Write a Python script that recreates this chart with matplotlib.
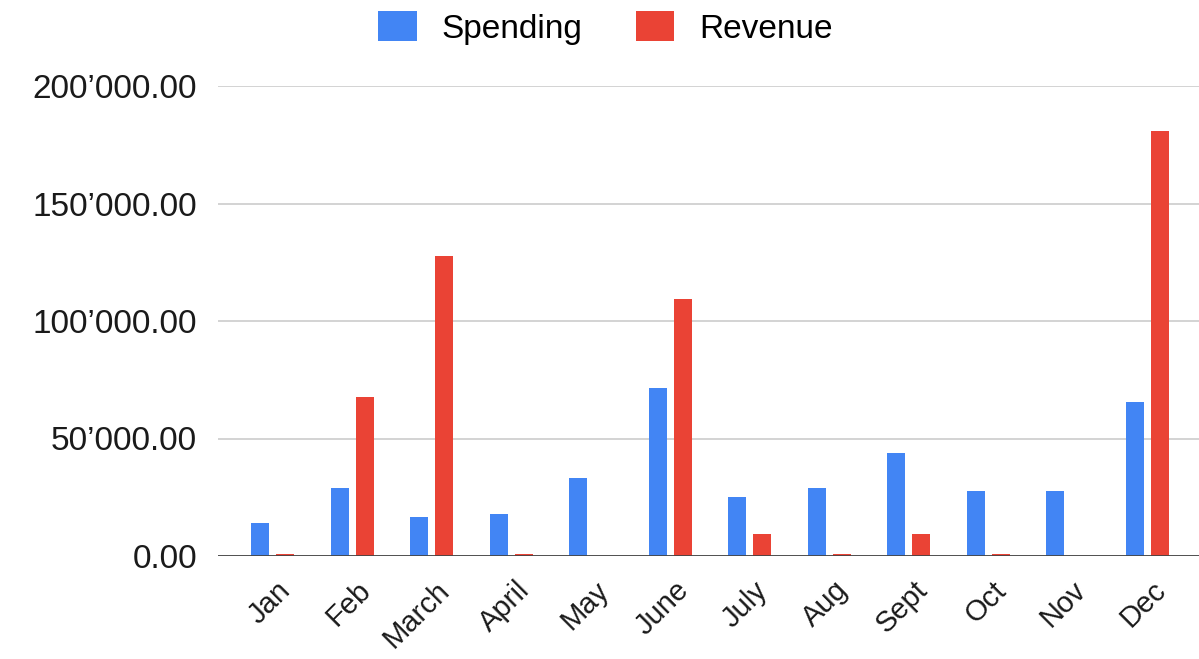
import numpy as np
import matplotlib.pyplot as plt
from matplotlib.ticker import FuncFormatter
from matplotlib.transforms import ScaledTranslation

plt.rcParams['font.family'] = ['Liberation Sans', 'DejaVu Sans']

months = ['Jan', 'Feb', 'March', 'April', 'May', 'June',
          'July', 'Aug', 'Sept', 'Oct', 'Nov', 'Dec']
spending = [14200, 28800, 16700, 17900, 33200, 71500,
            25200, 28800, 43700, 27700, 27700, 65500]
revenue = [800, 67700, 127700, 800, 0, 109400,
           9200, 800, 9200, 800, 0, 180900]

blue = '#4285f4'
red = '#ea4335'
fs = 24

fig = plt.figure(figsize=(11.99, 6.59), dpi=100)
ax = fig.add_axes([218 / 1199, 1 - 556 / 659, 981 / 1199, (556 - 86) / 659])

x = np.arange(len(months))
w = 0.226
off = 0.157
ax.bar(x - off, spending, width=w, color=blue, label='Spending', zorder=3)
ax.bar(x + off, revenue, width=w, color=red, label='Revenue', zorder=3)

ax.set_xlim(-0.686, 11.65)
ax.set_ylim(0, 200000)
ax.set_yticks([0, 50000, 100000, 150000, 200000])
ax.yaxis.set_major_formatter(
    FuncFormatter(lambda v, p: f'{v:,.2f}'.replace(',', '\u2019')))
ax.grid(axis='y', color='#cccccc', lw=1.2, zorder=0)
ax.axhline(0, color='#444444', lw=2, zorder=4)
ax.tick_params(axis='y', length=0, pad=15, labelsize=fs, colors='#1a1a1a')
ax.tick_params(axis='x', length=0, pad=0, labelsize=21, colors='#1a1a1a')

ax.set_xticks(x)
ax.set_xticklabels(months, rotation=45, ha='right', va='center',
                   rotation_mode='anchor')
shift = ScaledTranslation(14 / 100, -30 / 100, fig.dpi_scale_trans)
for lab in ax.get_xticklabels():
    lab.set_transform(lab.get_transform() + shift)

for s in ax.spines.values():
    s.set_visible(False)

fig.legend(loc='center', bbox_to_anchor=(0.505, 1 - 28 / 659), ncol=2,
           frameon=False, fontsize=fs, handlelength=1.15, handleheight=1.0,
           handletextpad=0.75, columnspacing=1.6)

fig.savefig('out.png', dpi=100)
